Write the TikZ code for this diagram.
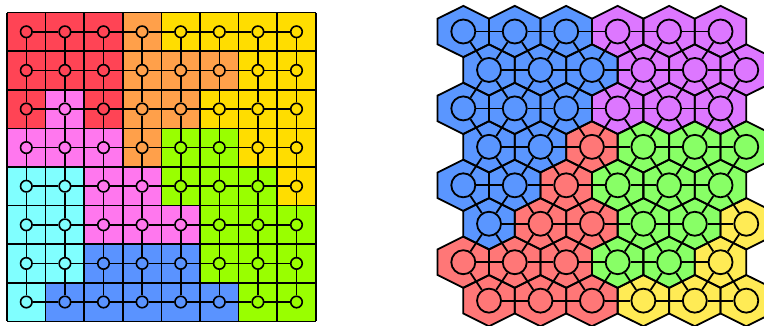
\documentclass[tikz,border=0pt]{standalone}
\definecolor{gR}{RGB}{255,68,85}
\definecolor{gO}{RGB}{255,160,74}
\definecolor{gY}{RGB}{255,221,0}
\definecolor{gP}{RGB}{255,119,238}
\definecolor{gC}{RGB}{128,255,255}
\definecolor{gB}{RGB}{90,147,255}
\definecolor{gG}{RGB}{153,255,0}
\definecolor{hB}{RGB}{90,150,255}
\definecolor{hP}{RGB}{221,119,255}
\definecolor{hR}{RGB}{255,119,119}
\definecolor{hG}{RGB}{136,255,102}
\definecolor{hY}{RGB}{255,235,85}
\tikzset{
  gline/.style={line width=1.6pt},
  gnode/.style={circle,draw,line width=1.6pt,minimum size=11.5pt,inner sep=0pt},
  hline/.style={line width=1.8pt,line join=miter},
  hnode/.style={circle,draw,line width=1.8pt,minimum size=24pt,inner sep=0pt},
}
\begin{document}
\begin{tikzpicture}[x=1pt,y=-1pt]
\useasboundingbox (0,0) rectangle (764,325);
\clip (0,0) rectangle (764,325);
% ---------- left: square grid ----------
\def\gs{38.6}
\foreach \r/\row in {0/{R,R,R,O,Y,Y,Y,Y},1/{R,R,R,O,O,O,Y,Y},2/{R,P,R,O,O,Y,Y,Y},3/{P,P,P,O,G,G,Y,Y},4/{C,C,P,P,G,G,G,Y},5/{C,C,P,P,P,G,G,G},6/{C,C,B,B,B,G,G,G},7/{C,B,B,B,B,B,G,G}}{
  \foreach \k [count=\c from 0] in \row {
    \fill[g\k] (7+\gs*\c,12.5+\gs*\r) rectangle ++(\gs,\gs);
  }
}
\foreach \i in {0,...,8}{
  \draw[gline] (7+\gs*\i,12.5) -- (7+\gs*\i,12.5+8*\gs);
  \draw[gline] (7,12.5+\gs*\i) -- (7+8*\gs,12.5+\gs*\i);
}
\foreach \r/\row in {0/{R,R,R,O,Y,Y,Y,Y},1/{R,R,R,O,O,O,Y,Y},2/{R,P,R,O,O,Y,Y,Y},3/{P,P,P,O,G,G,Y,Y},4/{C,C,P,P,G,G,G,Y},5/{C,C,P,P,P,G,G,G},6/{C,C,B,B,B,G,G,G},7/{C,B,B,B,B,B,G,G}}{
  \foreach \k [count=\c from 0] in \row {
    \node[gnode,fill=g\k] (L-\r-\c) at (7+\gs*\c+\gs/2,12.5+\gs*\r+\gs/2) {};
  }
}
\foreach \r in {0,...,7}{
  \foreach \c in {0,...,7}{
    \pgfmathtruncatemacro\cn{\c+1}
    \pgfmathtruncatemacro\rn{\r+1}
    \ifnum\c<7 \draw[gline] (L-\r-\c) -- (L-\r-\cn); \fi
    \ifnum\r<7 \draw[gline] (L-\r-\c) -- (L-\rn-\c); \fi
  }
}
% ---------- right: hex grid ----------
\def\hx{51.45}
\def\hw{25.72}
\def\hy{38.45}
\def\ha{25.63}
\def\hb{12.82}
\def\hexlist{0/{B,B,B,P,P,P},1/{B,B,B,P,P,P},2/{B,B,B,P,P,P},3/{B,B,R,G,G,G},4/{B,B,R,G,G,G},5/{B,R,R,G,G,Y},6/{R,R,R,G,G,Y},7/{R,R,R,Y,Y,Y}}
\foreach \r/\row in \hexlist {
  \foreach \k [count=\c from 0] in \row {
    \pgfmathsetmacro\cx{463.3+\hx*\c+\hw*mod(\r,2)}
    \pgfmathsetmacro\cy{31.5+\hy*\r}
    \fill[h\k,shift={(\cx,\cy)}] (0,-\ha) -- (\hw,-\hb) -- (\hw,\hb) -- (0,\ha) -- (-\hw,\hb) -- (-\hw,-\hb) -- cycle;
  }
}
\foreach \r in {0,...,7}{
  \foreach \c in {0,...,5}{
    \pgfmathsetmacro\cx{463.3+\hx*\c+\hw*mod(\r,2)}
    \pgfmathsetmacro\cy{31.5+\hy*\r}
    \draw[hline,shift={(\cx,\cy)}] (0,-\ha) -- (\hw,-\hb) -- (\hw,\hb) -- (0,\ha) -- (-\hw,\hb) -- (-\hw,-\hb) -- cycle;
  }
}
\foreach \r/\row in \hexlist {
  \foreach \k [count=\c from 0] in \row {
    \pgfmathsetmacro\cx{463.3+\hx*\c+\hw*mod(\r,2)}
    \pgfmathsetmacro\cy{31.5+\hy*\r}
    \node[hnode,fill=h\k] (H-\r-\c) at (\cx,\cy) {};
  }
}
\foreach \r in {0,...,7}{
  \foreach \c in {0,...,5}{
    \pgfmathtruncatemacro\cn{\c+1}
    \pgfmathtruncatemacro\cp{\c-1}
    \pgfmathtruncatemacro\rn{\r+1}
    \pgfmathtruncatemacro\odd{mod(\r,2)}
    \ifnum\c<5 \draw[hline] (H-\r-\c) -- (H-\r-\cn); \fi
    \ifnum\r<7
      \ifnum\odd=0
        \ifnum\c>0 \draw[hline] (H-\r-\c) -- (H-\rn-\cp); \fi
        \draw[hline] (H-\r-\c) -- (H-\rn-\c);
      \else
        \draw[hline] (H-\r-\c) -- (H-\rn-\c);
        \ifnum\c<5 \draw[hline] (H-\r-\c) -- (H-\rn-\cn); \fi
      \fi
    \fi
  }
}
\end{tikzpicture}
\end{document}
